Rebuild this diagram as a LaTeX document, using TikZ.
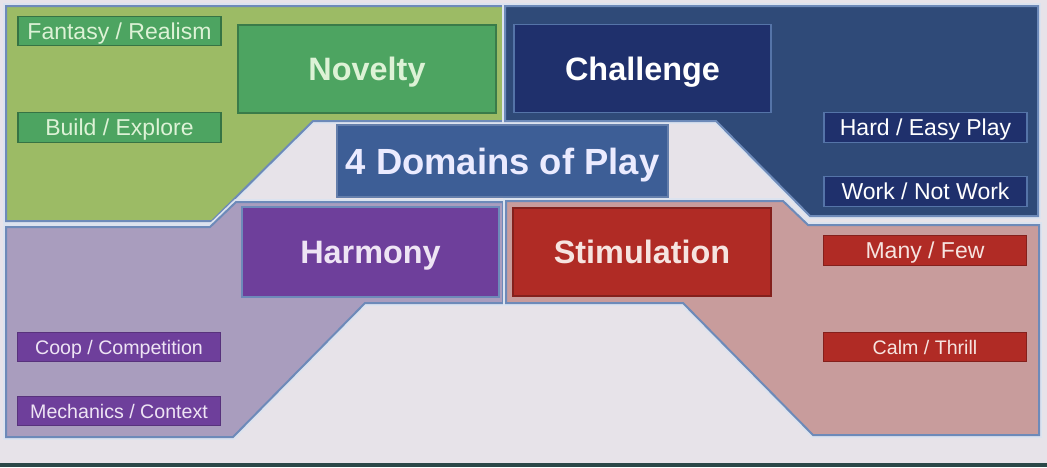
\documentclass[tikz,border=0pt]{standalone}
\usepackage{fontspec}
\setmainfont{Liberation Sans}
\usepackage{xcolor}
\definecolor{bgc}{HTML}{E7E3E9}
\definecolor{edge}{HTML}{6D8AB9}
\definecolor{halo}{HTML}{DCE3EF}
\definecolor{novR}{HTML}{9CBB65}
\definecolor{novB}{HTML}{4DA461}
\definecolor{novT}{HTML}{DDF2D6}
\definecolor{chalR}{HTML}{2F4A78}
\definecolor{chalB}{HTML}{1F306C}
\definecolor{chalE}{HTML}{5574A8}
\definecolor{harmR}{HTML}{A99DBE}
\definecolor{harmB}{HTML}{6E3F9B}
\definecolor{harmT}{HTML}{EEE4F4}
\definecolor{stimR}{HTML}{C89C9C}
\definecolor{stimB}{HTML}{B02B25}
\definecolor{stimT}{HTML}{F6E4E0}
\definecolor{ttl}{HTML}{3D5E96}
\definecolor{strip}{HTML}{2B4848}
\usetikzlibrary{positioning}

\begin{document}
\begin{tikzpicture}[x=0.5pt, y=-0.5pt,
  region/.style={line width=1pt, draw=edge, line join=miter,
    preaction={draw=halo, line width=2.8pt}},
  head/.style={font=\fontsize{16.2}{18}\selectfont\bfseries, inner sep=0pt,
    text height=11.6pt, text depth=0pt,
    minimum width=129pt, minimum height=44pt, line width=0.8pt},
  tag/.style={font=\fontsize{11.5}{13}\selectfont, inner sep=0pt,
    text height=8.2pt, text depth=0pt,
    minimum width=101.5pt, minimum height=14.8pt, line width=0.6pt},
  small/.style={font=\fontsize{9.8}{12}\selectfont, text height=7pt},
  novtag/.style={tag, fill=novB, draw=novB!70!black, text=novT},
  chaltag/.style={tag, fill=chalB, draw=chalE, text=white},
  harmtag/.style={tag, fill=harmB, draw=harmB!80!black, text=harmT},
  stimtag/.style={tag, fill=stimB, draw=stimB!75!black, text=stimT}]
\useasboundingbox (0,0) rectangle (1047,467);
\fill[bgc] (0,0) rectangle (1047,467);
\fill[strip] (0,463) rectangle (1047,467);
% the four domain areas
\filldraw[region, fill=novR] (6,6) -- (503,6) -- (503,121) -- (313,121)
  -- (212,221) -- (6,221) -- cycle;
\filldraw[region, fill=chalR] (505,6) -- (1038,6) -- (1038,216) -- (810,216)
  -- (716,121) -- (505,121) -- cycle;
\filldraw[region, fill=harmR] (6,227) -- (210,227) -- (236,202) -- (503,202)
  -- (503,303) -- (365,303) -- (233,437) -- (6,437) -- cycle;
\filldraw[region, fill=stimR] (506,201) -- (783,201) -- (808,225) -- (1039,225)
  -- (1039,435) -- (813,435) -- (683,303) -- (506,303) -- cycle;
% domain headings
\node[head, fill=novB, draw=novB!75!black, text=novT] (nov) at (367,69) {Novelty};
\node[head, fill=chalB, draw=chalE, text=white, minimum width=128.5pt] (chal) at (642.5,68.5) {Challenge};
\node[head, fill=harmB, draw=edge, text=harmT, minimum height=45pt, minimum width=128.5pt] (harm) at (370.5,252) {Harmony};
\node[head, fill=stimB, draw=stimB!75!black, text=stimT] (stim) at (642,252) {Stimulation};
\node[head, fill=ttl, draw=ttl!80!white, text=white!92!blue, minimum width=165.5pt,
  minimum height=36pt, text height=13pt, font=\fontsize{18.2}{20}\selectfont\bfseries] (ttl) at (502.5,161) {4 Domains of Play};
% sub-dimensions
\node[novtag] (fant) at (119.5,31) {Fantasy / Realism};
\node[novtag] (build) at (119.5,127.5) {Build / Explore};
\node[chaltag] (hard) at (925.5,127.5) {Hard / Easy Play};
\node[chaltag] (work) at (925.5,191.5) {Work / Not Work};
\node[harmtag, small] (coop) at (119,347) {Coop / Competition};
\node[harmtag, small] (mech) at (119,411) {Mechanics / Context};
\node[stimtag] (many) at (925,250.5) {Many / Few};
\node[stimtag, small] (calm) at (925,347) {Calm / Thrill};
\end{tikzpicture}
\end{document}
